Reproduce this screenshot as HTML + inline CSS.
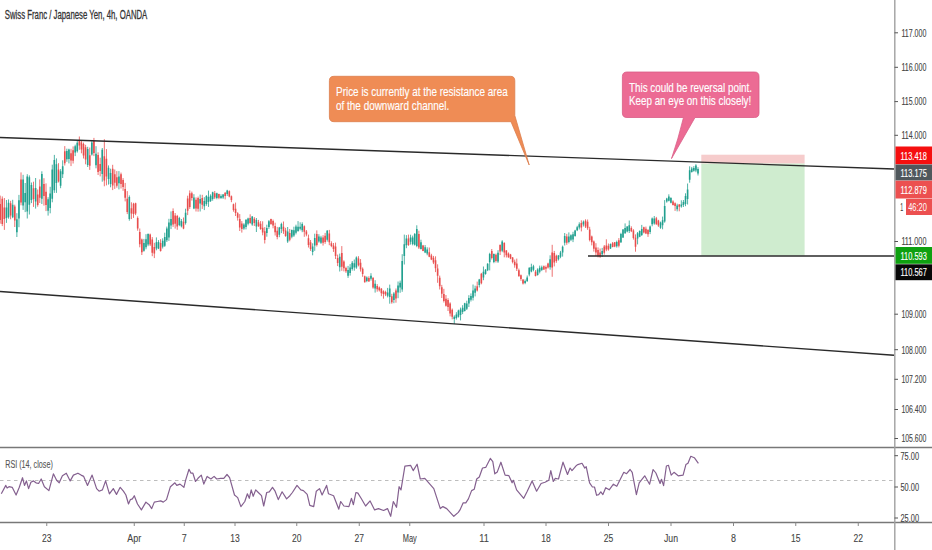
<!DOCTYPE html><html><head><meta charset="utf-8"><style>html,body{margin:0;padding:0;background:#fff;width:932px;height:550px;overflow:hidden}svg{display:block}</style></head><body><svg width="932" height="550" viewBox="0 0 932 550">
<rect width="932" height="550" fill="#fff"/>
<path d="M0 447.5H932" stroke="#787878" stroke-width="1.3"/>
<path d="M0 522.5H932" stroke="#787878" stroke-width="1.3"/>
<path d="M894.8 0V550" stroke="#a0a0a0" stroke-width="1.4"/>
<path d="M0 480.5H894" stroke="#bdbdbd" stroke-width="1" stroke-dasharray="3.5 3.5"/>
<rect x="701.3" y="154.7" width="103.3" height="8.9" fill="#f6cccc"/>
<rect x="701.3" y="163.6" width="103.3" height="92" fill="#cfeccf"/>
<path d="M6.44 200.0V222.9M8.53 199.4V218.7M12.69 199.8V218.2M16.86 213.2V237.0M18.94 194.9V227.2M23.11 174.8V209.9M25.19 183.0V212.1M27.27 174.2V218.5M29.36 175.4V214.5M31.44 182.5V203.1M35.61 178.0V208.6M41.85 171.3V204.0M48.10 197.2V215.6M50.19 186.8V213.3M52.27 164.7V202.3M54.35 154.9V192.9M56.44 158.4V192.9M60.60 169.1V188.2M62.68 160.3V178.0M66.85 148.7V161.8M68.93 148.7V163.4M75.18 144.7V156.1M77.27 140.9V152.6M87.68 146.8V167.0M91.85 140.6V155.6M96.01 146.2V168.3M102.26 148.0V181.7M108.51 165.4V184.6M110.59 168.7V187.3M118.93 171.1V189.4M129.34 195.4V220.7M143.92 238.9V251.7M146.00 234.2V249.3M148.09 233.4V246.2M156.42 237.4V250.3M158.50 240.1V249.1M162.67 238.3V248.5M164.75 232.7V246.9M166.83 226.6V242.0M168.92 218.8V240.9M171.00 211.4V229.1M179.33 216.8V226.2M181.42 219.0V227.4M185.58 208.7V224.6M193.91 194.2V209.2M200.16 194.6V211.5M204.33 197.2V210.1M206.41 195.1V205.8M208.49 190.6V206.9M210.58 194.3V202.0M212.66 191.7V200.7M216.83 192.7V199.3M220.99 194.3V198.9M223.08 194.0V198.9M227.24 189.8V195.9M243.91 223.2V229.8M245.99 219.3V229.4M248.07 217.7V225.4M252.24 216.1V225.8M256.40 218.0V232.0M266.82 224.7V236.7M268.90 220.1V228.9M279.32 226.9V237.2M281.40 222.7V233.1M287.65 227.0V242.9M291.81 229.5V238.3M293.90 226.7V236.9M295.98 224.7V234.4M298.06 221.1V231.8M300.15 222.3V230.4M302.23 222.3V232.2M312.64 243.3V255.3M314.73 233.7V250.8M318.89 234.2V242.7M320.98 235.8V243.9M327.23 230.0V241.6M339.72 253.6V271.5M348.06 265.9V277.9M350.14 264.1V275.6M352.22 261.0V270.6M354.30 259.5V270.7M356.39 256.4V268.8M366.80 276.4V282.2M370.97 273.2V280.6M375.13 280.2V292.6M387.63 287.9V297.4M389.72 284.6V303.7M393.88 292.1V303.2M398.05 281.5V298.2M400.13 280.6V292.8M402.21 254.2V291.8M404.30 234.6V264.5M406.38 235.1V248.2M410.55 234.7V244.6M412.63 235.6V245.3M414.71 233.0V245.6M416.79 225.3V247.2M420.96 239.7V249.5M425.13 245.1V253.1M427.21 247.3V255.3M454.29 315.3V323.9M456.37 312.2V319.6M458.45 309.7V317.6M460.54 307.6V320.4M462.62 305.2V314.1M464.70 302.8V311.5M466.79 300.7V310.0M468.87 295.2V307.0M470.95 293.4V301.5M473.04 284.5V300.5M475.12 285.7V296.4M479.28 278.9V287.5M483.45 266.5V280.2M485.53 269.1V274.7M487.62 263.2V271.1M489.70 252.8V270.4M493.87 253.5V263.2M498.03 250.2V262.9M502.20 240.2V252.2M525.11 279.5V284.2M527.19 275.5V281.7M529.28 267.3V276.3M531.36 263.7V272.3M533.44 264.8V271.3M537.61 268.3V275.6M539.69 265.6V273.4M541.77 265.6V271.1M550.11 255.3V269.7M558.44 255.1V260.5M560.52 250.9V258.2M562.61 245.6V256.6M564.69 233.0V245.5M568.85 232.4V243.4M570.94 234.3V241.1M573.02 231.8V242.1M575.10 229.8V236.7M577.19 225.8V231.1M579.27 222.3V229.5M583.43 220.5V226.5M602.18 247.9V257.0M610.51 243.5V249.0M616.76 240.6V247.6M620.93 232.8V243.0M623.01 229.1V238.0M625.10 223.4V233.8M627.18 226.2V232.4M629.26 220.5V233.0M637.59 232.0V244.4M639.68 230.4V237.2M641.76 224.9V236.0M650.09 225.5V234.1M652.17 217.5V226.3M654.26 216.0V224.7M660.51 221.6V228.8M662.59 216.6V229.3M664.67 200.1V222.7M666.75 197.8V202.7M668.84 194.3V201.4M670.92 197.2V203.4M677.17 203.7V211.4M681.34 200.3V207.7M683.42 200.0V207.0M685.50 193.3V206.2M687.59 183.5V204.5M689.67 166.3V182.7M691.75 166.9V172.6M693.83 166.1V171.7M695.92 164.2V172.2M698.00 167.2V175.5" stroke="#22a08f" stroke-width="0.8" fill="none"/>
<path d="M5.64 207.5h1.6V218.0h-1.6zM7.73 202.7h1.6V217.2h-1.6zM11.89 204.7h1.6V217.2h-1.6zM16.06 219.3h1.6V232.2h-1.6zM18.14 200.2h1.6V218.4h-1.6zM22.31 179.6h1.6V205.6h-1.6zM24.39 192.9h1.6V202.2h-1.6zM26.47 176.5h1.6V211.5h-1.6zM28.56 177.3h1.6V204.8h-1.6zM30.64 184.9h1.6V200.1h-1.6zM34.81 188.1h1.6V201.4h-1.6zM41.05 174.0h1.6V198.8h-1.6zM47.30 199.3h1.6V210.7h-1.6zM49.39 193.6h1.6V208.1h-1.6zM51.47 169.4h1.6V198.7h-1.6zM53.55 159.9h1.6V190.3h-1.6zM55.64 164.2h1.6V182.9h-1.6zM59.80 171.2h1.6V185.7h-1.6zM61.88 166.2h1.6V174.3h-1.6zM66.05 151.1h1.6V159.2h-1.6zM68.13 149.5h1.6V159.0h-1.6zM74.38 146.2h1.6V152.6h-1.6zM76.47 142.8h1.6V151.3h-1.6zM86.88 149.1h1.6V165.0h-1.6zM91.05 142.4h1.6V154.4h-1.6zM95.21 153.7h1.6V165.3h-1.6zM101.46 149.7h1.6V174.1h-1.6zM107.71 167.7h1.6V179.1h-1.6zM109.79 172.9h1.6V183.9h-1.6zM118.13 176.5h1.6V183.3h-1.6zM128.54 197.1h1.6V219.0h-1.6zM143.12 243.1h1.6V250.8h-1.6zM145.20 239.3h1.6V247.3h-1.6zM147.29 234.0h1.6V244.5h-1.6zM155.62 242.2h1.6V248.5h-1.6zM157.70 242.0h1.6V248.6h-1.6zM161.87 240.7h1.6V246.7h-1.6zM163.95 237.0h1.6V245.7h-1.6zM166.03 228.5h1.6V240.3h-1.6zM168.12 222.6h1.6V237.6h-1.6zM170.20 219.1h1.6V225.4h-1.6zM178.53 218.0h1.6V225.1h-1.6zM180.62 221.1h1.6V226.2h-1.6zM184.78 212.8h1.6V223.0h-1.6zM193.11 197.5h1.6V208.4h-1.6zM199.36 199.1h1.6V203.4h-1.6zM203.53 201.0h1.6V206.2h-1.6zM205.61 196.0h1.6V204.0h-1.6zM207.69 196.9h1.6V201.9h-1.6zM209.78 195.7h1.6V200.9h-1.6zM211.86 192.2h1.6V199.1h-1.6zM216.03 193.2h1.6V198.1h-1.6zM220.19 195.9h1.6V198.1h-1.6zM222.28 194.5h1.6V197.5h-1.6zM226.44 190.6h1.6V194.0h-1.6zM243.11 224.5h1.6V228.6h-1.6zM245.19 219.7h1.6V226.9h-1.6zM247.27 218.5h1.6V223.7h-1.6zM251.44 216.6h1.6V224.5h-1.6zM255.60 219.9h1.6V226.5h-1.6zM266.02 227.9h1.6V233.1h-1.6zM268.10 221.2h1.6V227.1h-1.6zM278.52 227.6h1.6V234.7h-1.6zM280.60 224.1h1.6V228.9h-1.6zM286.85 231.6h1.6V241.5h-1.6zM291.01 230.0h1.6V236.7h-1.6zM293.10 230.2h1.6V235.4h-1.6zM295.18 226.5h1.6V232.8h-1.6zM297.26 226.8h1.6V231.0h-1.6zM299.35 226.7h1.6V228.8h-1.6zM301.43 223.9h1.6V230.3h-1.6zM311.84 246.6h1.6V252.0h-1.6zM313.93 237.9h1.6V245.6h-1.6zM318.09 236.4h1.6V241.5h-1.6zM320.18 237.5h1.6V242.7h-1.6zM326.43 230.7h1.6V239.7h-1.6zM338.92 256.7h1.6V267.3h-1.6zM347.26 269.9h1.6V275.8h-1.6zM349.34 267.4h1.6V273.0h-1.6zM351.42 262.7h1.6V268.9h-1.6zM353.50 263.2h1.6V267.6h-1.6zM355.59 257.5h1.6V267.4h-1.6zM366.00 277.4h1.6V281.0h-1.6zM370.17 275.7h1.6V278.7h-1.6zM374.33 283.8h1.6V288.6h-1.6zM386.83 292.4h1.6V295.8h-1.6zM388.92 288.5h1.6V297.1h-1.6zM393.08 293.4h1.6V300.1h-1.6zM397.25 285.6h1.6V292.5h-1.6zM399.33 282.8h1.6V287.6h-1.6zM401.41 260.9h1.6V289.5h-1.6zM403.50 244.3h1.6V255.9h-1.6zM405.58 238.5h1.6V245.2h-1.6zM409.75 237.5h1.6V241.7h-1.6zM411.83 237.4h1.6V243.9h-1.6zM413.91 234.1h1.6V244.8h-1.6zM415.99 229.0h1.6V246.0h-1.6zM420.16 242.2h1.6V249.0h-1.6zM424.33 247.3h1.6V252.5h-1.6zM426.41 249.4h1.6V253.4h-1.6zM453.49 316.8h1.6V319.1h-1.6zM455.57 314.6h1.6V317.9h-1.6zM457.65 310.6h1.6V316.7h-1.6zM459.74 309.4h1.6V314.9h-1.6zM461.82 307.7h1.6V312.0h-1.6zM463.90 303.3h1.6V311.1h-1.6zM465.99 303.4h1.6V308.8h-1.6zM468.07 298.1h1.6V303.6h-1.6zM470.15 295.9h1.6V299.7h-1.6zM472.24 290.4h1.6V297.7h-1.6zM474.32 288.4h1.6V292.8h-1.6zM478.48 279.5h1.6V284.9h-1.6zM482.65 271.7h1.6V277.6h-1.6zM484.73 269.8h1.6V274.1h-1.6zM486.82 263.7h1.6V270.3h-1.6zM488.90 254.1h1.6V262.3h-1.6zM493.07 254.1h1.6V262.1h-1.6zM497.23 252.7h1.6V261.6h-1.6zM501.40 241.5h1.6V250.7h-1.6zM524.31 281.0h1.6V282.9h-1.6zM526.39 277.4h1.6V281.2h-1.6zM528.48 267.8h1.6V274.4h-1.6zM530.56 267.1h1.6V271.4h-1.6zM532.64 266.2h1.6V269.8h-1.6zM536.81 269.5h1.6V274.9h-1.6zM538.89 267.8h1.6V271.7h-1.6zM540.98 267.2h1.6V270.1h-1.6zM549.31 259.3h1.6V267.3h-1.6zM557.64 255.6h1.6V259.2h-1.6zM559.72 252.5h1.6V256.8h-1.6zM561.81 246.7h1.6V252.5h-1.6zM563.89 236.1h1.6V242.7h-1.6zM568.05 236.5h1.6V242.0h-1.6zM570.14 235.2h1.6V239.8h-1.6zM572.22 234.3h1.6V239.4h-1.6zM574.30 230.6h1.6V236.1h-1.6zM576.39 227.2h1.6V230.3h-1.6zM578.47 224.2h1.6V227.6h-1.6zM582.63 221.8h1.6V224.5h-1.6zM601.38 251.0h1.6V254.2h-1.6zM609.71 244.1h1.6V248.4h-1.6zM615.96 242.1h1.6V246.2h-1.6zM620.13 233.9h1.6V242.2h-1.6zM622.21 229.5h1.6V237.4h-1.6zM624.30 228.0h1.6V233.2h-1.6zM626.38 226.6h1.6V231.4h-1.6zM628.46 225.3h1.6V230.9h-1.6zM636.79 233.3h1.6V238.4h-1.6zM638.88 231.0h1.6V236.7h-1.6zM640.96 228.9h1.6V234.9h-1.6zM649.29 226.6h1.6V231.9h-1.6zM651.37 218.5h1.6V224.3h-1.6zM653.46 218.5h1.6V223.6h-1.6zM659.71 222.4h1.6V227.7h-1.6zM661.79 220.2h1.6V225.2h-1.6zM663.87 205.9h1.6V221.4h-1.6zM665.96 198.4h1.6V201.5h-1.6zM668.04 196.6h1.6V200.8h-1.6zM670.12 197.9h1.6V202.8h-1.6zM676.37 205.5h1.6V209.3h-1.6zM680.54 204.6h1.6V206.6h-1.6zM682.62 202.0h1.6V205.1h-1.6zM684.70 195.9h1.6V203.9h-1.6zM686.79 189.6h1.6V199.0h-1.6zM688.87 170.2h1.6V179.7h-1.6zM690.95 168.4h1.6V172.1h-1.6zM693.03 168.0h1.6V170.7h-1.6zM695.12 165.4h1.6V170.5h-1.6zM697.20 169.1h1.6V173.4h-1.6z" fill="#22a08f"/>
<path d="M0.19 195.6V223.7M2.28 196.4V226.1M4.36 198.0V229.9M10.61 200.8V219.3M14.78 204.7V227.0M21.02 172.4V205.3M33.52 181.7V206.9M37.69 189.5V206.7M39.77 179.4V203.0M43.94 178.2V205.6M46.02 183.4V211.1M58.52 163.2V182.5M64.77 146.1V165.5M71.02 148.8V166.1M73.10 146.4V163.5M79.35 136.5V149.8M81.43 140.0V153.3M83.51 142.6V158.5M85.60 144.8V164.3M89.76 147.5V169.9M93.93 137.9V156.1M98.10 152.3V175.0M100.18 157.7V176.4M104.34 139.2V186.3M106.43 149.1V185.4M112.68 164.8V190.1M114.76 169.5V188.9M116.84 171.1V187.7M121.01 172.6V188.5M123.09 178.1V190.8M125.17 182.9V201.4M127.26 191.1V214.1M131.42 202.3V219.1M133.51 202.8V217.9M135.59 202.7V215.1M137.67 216.4V230.7M139.76 228.5V247.3M141.84 238.6V255.0M150.17 233.6V246.0M152.25 237.1V256.2M154.34 242.8V258.1M160.59 239.2V251.6M173.08 208.4V226.9M175.17 213.0V228.6M177.25 214.9V229.8M183.50 217.5V229.2M187.66 195.7V215.1M189.75 190.4V208.9M191.83 191.6V200.6M196.00 197.4V211.5M198.08 196.6V211.7M202.25 194.8V208.9M214.74 191.0V199.1M218.91 193.7V199.2M225.16 192.2V199.4M229.32 190.4V197.3M231.41 195.5V202.2M233.49 203.6V211.7M235.57 202.6V216.0M237.66 212.2V220.6M239.74 214.1V231.0M241.82 221.1V232.6M250.15 214.3V223.8M254.32 217.1V226.0M258.49 219.9V226.8M260.57 221.1V229.8M262.65 221.3V235.3M264.74 227.1V243.5M270.98 218.7V224.8M273.07 219.6V228.3M275.15 222.7V235.5M277.23 226.9V239.3M283.48 221.5V233.9M285.57 227.8V236.8M289.73 229.0V241.3M304.31 225.4V236.8M306.40 230.0V236.3M308.48 234.6V247.5M310.56 240.0V250.9M316.81 230.4V246.5M323.06 235.2V245.6M325.14 232.9V243.8M329.31 229.9V245.2M331.39 241.3V247.2M333.47 243.0V251.9M335.56 242.6V259.0M337.64 254.6V266.1M341.81 246.1V270.8M343.89 260.3V271.4M345.97 266.7V272.9M358.47 256.2V266.4M360.55 259.1V271.6M362.64 267.4V276.8M364.72 275.6V282.6M368.89 276.3V281.7M373.05 277.0V288.7M377.22 284.1V291.7M379.30 286.5V291.5M381.38 288.0V296.2M383.47 290.3V298.7M385.55 290.7V296.1M391.80 293.8V303.7M395.96 288.5V302.7M408.46 234.6V245.9M418.88 230.7V249.0M423.04 244.9V251.2M429.29 247.5V257.2M431.38 253.8V260.1M433.46 255.9V264.1M435.54 256.3V272.1M437.62 264.3V282.8M439.71 275.6V289.5M441.79 284.9V298.0M443.87 288.8V302.5M445.96 295.0V306.6M448.04 298.2V311.0M450.12 302.3V316.4M452.21 308.5V319.3M477.20 281.6V291.5M481.37 272.9V284.3M491.78 249.0V259.5M495.95 253.6V262.5M500.12 244.3V255.0M504.28 242.2V257.3M506.36 250.1V257.5M508.45 252.4V257.8M510.53 253.9V259.2M512.61 257.0V263.4M514.70 259.6V267.7M516.78 258.6V271.0M518.86 268.6V276.6M520.94 274.5V280.8M523.03 279.3V284.5M535.53 270.1V276.4M543.86 265.5V270.0M545.94 265.5V272.5M548.02 262.7V268.5M552.19 244.8V276.8M554.27 250.9V266.4M556.36 254.7V262.8M566.77 233.9V244.8M581.35 220.3V231.4M585.52 219.3V228.0M587.60 219.5V229.9M589.68 226.8V241.4M591.77 235.6V245.4M593.85 240.5V251.6M595.93 243.2V256.0M598.02 247.4V257.4M600.10 248.5V257.9M604.26 245.0V254.7M606.35 239.3V251.2M608.43 243.5V250.7M612.60 242.0V247.3M614.68 242.0V247.2M618.85 238.1V247.4M631.34 226.3V232.1M633.43 229.2V239.6M635.51 234.4V251.7M643.84 226.7V233.4M645.92 226.6V234.1M648.01 229.1V236.9M656.34 216.9V224.8M658.42 219.8V226.9M673.00 200.3V205.5M675.09 202.4V210.9M679.25 204.0V211.3" stroke="#e84d4d" stroke-width="0.8" fill="none"/>
<path d="M-0.61 203.9h1.6V220.1h-1.6zM1.48 198.7h1.6V224.1h-1.6zM3.56 207.5h1.6V219.1h-1.6zM9.81 203.3h1.6V215.6h-1.6zM13.98 206.5h1.6V220.4h-1.6zM20.22 179.6h1.6V202.4h-1.6zM32.72 188.3h1.6V199.0h-1.6zM36.89 194.5h1.6V205.1h-1.6zM38.97 186.4h1.6V197.7h-1.6zM43.14 183.9h1.6V196.1h-1.6zM45.22 191.8h1.6V205.0h-1.6zM57.72 169.6h1.6V181.5h-1.6zM63.97 151.2h1.6V163.2h-1.6zM70.22 153.3h1.6V160.5h-1.6zM72.30 150.3h1.6V160.8h-1.6zM78.55 140.8h1.6V145.4h-1.6zM80.63 142.4h1.6V149.6h-1.6zM82.71 144.0h1.6V155.4h-1.6zM84.80 147.3h1.6V159.5h-1.6zM88.96 155.3h1.6V165.7h-1.6zM93.13 141.1h1.6V153.0h-1.6zM97.30 154.9h1.6V172.0h-1.6zM99.38 164.1h1.6V170.9h-1.6zM103.54 156.2h1.6V180.6h-1.6zM105.63 158.8h1.6V176.5h-1.6zM111.88 168.7h1.6V185.4h-1.6zM113.96 174.2h1.6V182.8h-1.6zM116.04 177.3h1.6V185.7h-1.6zM120.21 174.3h1.6V183.9h-1.6zM122.29 179.9h1.6V187.0h-1.6zM124.37 189.1h1.6V197.8h-1.6zM126.46 198.8h1.6V211.9h-1.6zM130.62 208.2h1.6V213.6h-1.6zM132.71 203.7h1.6V214.1h-1.6zM134.79 203.3h1.6V213.4h-1.6zM136.87 218.0h1.6V228.5h-1.6zM138.96 232.1h1.6V244.3h-1.6zM141.04 239.6h1.6V252.2h-1.6zM149.37 234.4h1.6V244.5h-1.6zM151.45 239.5h1.6V252.8h-1.6zM153.54 247.0h1.6V253.5h-1.6zM159.79 243.0h1.6V250.9h-1.6zM172.28 211.1h1.6V224.6h-1.6zM174.37 215.5h1.6V223.7h-1.6zM176.45 216.1h1.6V226.4h-1.6zM182.70 221.7h1.6V228.5h-1.6zM186.86 198.5h1.6V210.8h-1.6zM188.95 193.3h1.6V206.9h-1.6zM191.03 193.2h1.6V197.9h-1.6zM195.20 199.7h1.6V208.6h-1.6zM197.28 197.9h1.6V208.7h-1.6zM201.45 198.1h1.6V204.7h-1.6zM213.94 193.3h1.6V197.6h-1.6zM218.11 194.1h1.6V197.7h-1.6zM224.36 192.7h1.6V195.9h-1.6zM228.52 191.2h1.6V196.4h-1.6zM230.61 196.2h1.6V200.0h-1.6zM232.69 204.3h1.6V210.0h-1.6zM234.77 208.7h1.6V213.0h-1.6zM236.86 213.3h1.6V217.7h-1.6zM238.94 219.0h1.6V227.4h-1.6zM241.02 223.4h1.6V228.9h-1.6zM249.35 218.0h1.6V223.1h-1.6zM253.52 218.7h1.6V223.0h-1.6zM257.69 222.2h1.6V226.2h-1.6zM259.77 223.7h1.6V228.9h-1.6zM261.85 227.8h1.6V232.6h-1.6zM263.94 231.2h1.6V240.0h-1.6zM270.18 219.1h1.6V224.0h-1.6zM272.27 220.9h1.6V225.6h-1.6zM274.35 226.0h1.6V232.3h-1.6zM276.43 230.7h1.6V237.0h-1.6zM282.68 226.7h1.6V231.3h-1.6zM284.77 230.6h1.6V236.1h-1.6zM288.93 232.9h1.6V239.8h-1.6zM303.51 226.3h1.6V231.7h-1.6zM305.60 231.6h1.6V234.5h-1.6zM307.68 238.2h1.6V245.0h-1.6zM309.76 242.2h1.6V249.1h-1.6zM316.01 234.0h1.6V245.1h-1.6zM322.26 237.4h1.6V242.8h-1.6zM324.34 235.8h1.6V241.9h-1.6zM328.51 233.5h1.6V242.3h-1.6zM330.59 243.2h1.6V246.1h-1.6zM332.67 245.4h1.6V249.1h-1.6zM334.76 246.6h1.6V256.0h-1.6zM336.84 257.9h1.6V263.1h-1.6zM341.01 253.1h1.6V266.7h-1.6zM343.09 261.4h1.6V268.3h-1.6zM345.17 268.0h1.6V271.2h-1.6zM357.67 258.5h1.6V265.2h-1.6zM359.75 262.8h1.6V269.2h-1.6zM361.84 268.8h1.6V273.9h-1.6zM363.92 276.3h1.6V282.2h-1.6zM368.09 278.0h1.6V281.4h-1.6zM372.25 277.9h1.6V287.6h-1.6zM376.42 286.0h1.6V289.2h-1.6zM378.50 287.5h1.6V290.2h-1.6zM380.58 288.7h1.6V293.2h-1.6zM382.67 291.3h1.6V294.1h-1.6zM384.75 292.0h1.6V294.5h-1.6zM391.00 296.2h1.6V302.2h-1.6zM395.16 290.4h1.6V298.5h-1.6zM407.66 238.6h1.6V245.1h-1.6zM418.08 233.9h1.6V247.5h-1.6zM422.24 245.5h1.6V250.9h-1.6zM428.49 252.2h1.6V256.8h-1.6zM430.58 255.5h1.6V259.5h-1.6zM432.66 257.7h1.6V262.6h-1.6zM434.74 260.2h1.6V268.3h-1.6zM436.82 268.5h1.6V275.7h-1.6zM438.91 277.7h1.6V286.3h-1.6zM440.99 287.3h1.6V293.8h-1.6zM443.07 294.1h1.6V300.9h-1.6zM445.16 298.7h1.6V305.8h-1.6zM447.24 299.9h1.6V307.1h-1.6zM449.32 303.4h1.6V313.4h-1.6zM451.41 309.8h1.6V316.8h-1.6zM476.40 286.2h1.6V290.5h-1.6zM480.57 273.7h1.6V283.3h-1.6zM490.98 250.9h1.6V257.9h-1.6zM495.15 254.8h1.6V260.9h-1.6zM499.31 245.0h1.6V251.6h-1.6zM503.48 243.1h1.6V252.5h-1.6zM505.56 250.5h1.6V255.3h-1.6zM507.65 253.5h1.6V257.2h-1.6zM509.73 254.4h1.6V258.6h-1.6zM511.81 257.5h1.6V261.9h-1.6zM513.90 261.7h1.6V265.3h-1.6zM515.98 263.6h1.6V268.7h-1.6zM518.06 270.2h1.6V276.2h-1.6zM520.14 275.2h1.6V278.9h-1.6zM522.23 279.6h1.6V283.4h-1.6zM534.73 271.7h1.6V276.0h-1.6zM543.06 266.2h1.6V269.4h-1.6zM545.14 267.0h1.6V268.7h-1.6zM547.22 263.4h1.6V267.5h-1.6zM551.39 252.5h1.6V267.4h-1.6zM553.47 252.9h1.6V262.5h-1.6zM555.56 255.7h1.6V261.1h-1.6zM565.97 236.4h1.6V242.7h-1.6zM580.55 222.9h1.6V227.5h-1.6zM584.72 220.7h1.6V226.4h-1.6zM586.80 221.8h1.6V228.2h-1.6zM588.88 229.5h1.6V239.9h-1.6zM590.97 236.4h1.6V242.2h-1.6zM593.05 241.6h1.6V248.7h-1.6zM595.13 247.4h1.6V252.4h-1.6zM597.22 250.0h1.6V255.7h-1.6zM599.30 252.4h1.6V256.4h-1.6zM603.47 246.5h1.6V252.7h-1.6zM605.55 245.4h1.6V249.5h-1.6zM607.63 245.8h1.6V249.4h-1.6zM611.80 243.3h1.6V247.0h-1.6zM613.88 242.3h1.6V246.5h-1.6zM618.05 240.2h1.6V245.8h-1.6zM630.54 228.0h1.6V231.3h-1.6zM632.63 230.5h1.6V237.9h-1.6zM634.71 237.8h1.6V246.7h-1.6zM643.04 227.2h1.6V232.5h-1.6zM645.12 228.8h1.6V233.4h-1.6zM647.21 230.0h1.6V234.3h-1.6zM655.54 218.2h1.6V224.2h-1.6zM657.62 220.4h1.6V225.4h-1.6zM672.20 201.5h1.6V204.9h-1.6zM674.29 203.3h1.6V206.1h-1.6zM678.45 204.5h1.6V206.8h-1.6z" fill="#e84d4d"/>
<path d="M0 137.5L894 169" stroke="#2a2a2a" stroke-width="1.4"/>
<path d="M0 291.5L894 355.3" stroke="#2a2a2a" stroke-width="1.4"/>
<path d="M588 256H894" stroke="#2a2a2a" stroke-width="1.4"/>

<path d="M334 76.3H510.5Q514.8 76.3 514.8 80.6V115.5L529.2 165L511 121.7H334Q329.4 121.7 329.4 117V80.6Q329.4 76.3 334 76.3Z" fill="#ef8c55" stroke="#dc7d4c" stroke-width="0.8"/>
<path d="M627 72H754.5Q759 72 759 76.5V113Q759 117.5 754.5 117.5H695L671.5 158.6Q678 140 683.5 117.5H627Q622.4 117.5 622.4 113V76.5Q622.4 72 627 72Z" fill="#ec6b94" stroke="#d95c85" stroke-width="0.8"/>
<text x="336" y="95.7" font-family="Liberation Sans, sans-serif" font-size="13.5" fill="#fff" stroke="#fff" stroke-width="0.15" textLength="171.7" lengthAdjust="spacingAndGlyphs">Price is currently at the resistance area</text>
<text x="336" y="109.7" font-family="Liberation Sans, sans-serif" font-size="13.5" fill="#fff" stroke="#fff" stroke-width="0.15" textLength="113.3" lengthAdjust="spacingAndGlyphs">of the downward channel.</text>
<text x="629" y="91.7" font-family="Liberation Sans, sans-serif" font-size="13.5" fill="#fff" stroke="#fff" stroke-width="0.15" textLength="123" lengthAdjust="spacingAndGlyphs">This could be reversal point.</text>
<text x="629" y="104.7" font-family="Liberation Sans, sans-serif" font-size="13.5" fill="#fff" stroke="#fff" stroke-width="0.15" textLength="122.2" lengthAdjust="spacingAndGlyphs">Keep an eye on this closely!</text>
<text x="4.8" y="19.3" font-family="Liberation Sans, sans-serif" font-size="13" fill="#333" stroke="#333" stroke-width="0.3" textLength="142.5" lengthAdjust="spacingAndGlyphs">Swiss Franc / Japanese Yen, 4h, OANDA</text>
<text x="5.2" y="467.6" font-family="Liberation Sans, sans-serif" font-size="11" fill="#555" stroke="#555" stroke-width="0.1" textLength="47.6" lengthAdjust="spacingAndGlyphs">RSI (14, close)</text>
<polyline points="1.3,493.8 5.8,485.4 7.1,488.0 9.0,486.7 12.2,487.3 16.1,495.0 19.3,487.3 22.5,477.7 24.5,485.4 26.4,480.9 28.6,488.6 30.9,482.2 33.5,480.9 36.0,482.8 38.6,483.5 41.2,479.0 44.4,486.7 48.9,490.6 53.4,473.8 56.6,480.3 59.2,482.8 62.4,475.7 66.3,473.2 70.2,480.9 73.4,475.1 77.9,473.2 81.1,475.1 83.7,476.4 87.5,485.4 92.1,475.1 96.6,488.6 99.1,491.2 102.4,489.9 105.6,480.9 109.4,493.8 113.3,488.6 116.5,494.4 120.2,487.3 123.4,491.2 125.9,495.0 128.5,504.0 130.4,499.6 132.4,498.9 134.3,495.7 137.5,504.0 141.4,509.9 145.9,502.1 149.1,504.7 151.7,508.6 154.3,502.1 157.5,501.5 160.7,500.9 163.3,502.1 166.5,499.6 170.4,486.7 174.9,482.8 176.8,485.4 180.0,484.1 183.9,487.3 185.8,479.6 189.0,469.3 191.0,473.2 192.9,473.2 195.5,481.5 198.0,478.3 201.3,475.1 203.8,484.1 207.1,476.4 210.9,479.0 214.1,476.4 216.7,479.0 220.6,478.3 223.8,478.3 227.0,474.5 229.6,477.7 234.5,495.0 237.7,497.6 240.9,506.6 244.8,501.5 247.4,493.8 249.3,498.3 251.2,489.9 253.2,496.3 255.7,489.9 258.3,492.5 261.5,495.7 263.7,506.0 266.7,492.5 269.3,491.8 272.5,487.3 275.1,491.2 278.3,499.6 282.1,491.8 286.6,498.9 289.9,495.7 292.4,492.5 297.0,485.4 300.8,489.9 303.4,490.6 307.2,494.4 309.8,505.4 313.7,506.6 316.3,491.2 319.5,488.6 322.1,495.0 326.6,485.4 328.5,493.8 333.6,495.7 338.8,509.2 340.7,501.5 343.9,506.0 348.9,506.6 351.4,498.3 353.4,504.7 355.9,492.5 357.9,493.1 361.1,498.3 365.6,506.0 370.1,500.9 374.6,509.9 378.5,508.6 383.6,510.5 387.5,508.6 390.7,516.3 393.3,501.5 396.5,507.3 399.1,486.7 401.0,489.9 404.9,466.1 410.7,465.4 413.2,470.6 417.1,464.2 420.3,479.0 424.8,478.3 433.8,488.6 440.3,508.6 442.9,506.6 446.7,508.6 453.8,516.3 458.3,512.4 460.0,509.9 463.2,502.8 465.8,502.8 468.4,498.9 471.6,490.6 474.2,489.3 476.7,479.0 479.3,477.0 482.5,468.0 485.7,467.4 490.3,458.4 492.8,461.6 494.8,473.8 497.3,471.9 500.9,462.2 505.1,475.1 508.9,475.7 512.1,482.8 513.4,480.3 516.6,489.9 523.7,498.3 527.0,491.8 532.1,480.9 536.6,491.2 541.1,483.5 545.0,482.2 548.8,480.3 550.8,470.6 553.3,481.5 555.3,478.3 558.5,479.0 563.0,462.2 567.5,474.5 570.1,468.0 572.0,470.6 576.5,465.4 577.8,464.6 582.0,463.3 584.8,468.1 586.2,466.7 589.6,482.8 592.4,487.0 594.5,487.0 596.6,495.3 598.7,494.6 600.8,491.8 602.9,494.6 605.7,487.7 609.2,489.8 613.4,484.2 616.8,486.3 620.3,479.3 623.8,472.3 626.6,473.7 630.1,469.5 632.2,472.3 636.4,494.6 639.2,482.8 644.7,475.8 649.6,484.2 653.1,469.5 655.9,473.0 660.1,483.5 661.5,479.3 663.6,485.6 666.4,466.0 668.5,465.3 671.2,475.1 674.0,472.3 678.2,475.8 683.1,475.1 685.9,464.6 688.0,463.3 690.8,456.3 694.3,457.7 698.4,463.3" fill="none" stroke="#84608f" stroke-width="1.2" stroke-linejoin="round"/>
<path d="M894.5 32.8H898" stroke="#555" stroke-width="1"/>
<text x="901.4" y="36.6" font-family="Liberation Sans, sans-serif" font-size="10.8" fill="#444" stroke="#444" stroke-width="0.12" textLength="25" lengthAdjust="spacingAndGlyphs">117.000</text>
<path d="M894.5 67.3H898" stroke="#555" stroke-width="1"/>
<text x="901.4" y="71.1" font-family="Liberation Sans, sans-serif" font-size="10.8" fill="#444" stroke="#444" stroke-width="0.12" textLength="25" lengthAdjust="spacingAndGlyphs">116.000</text>
<path d="M894.5 101.6H898" stroke="#555" stroke-width="1"/>
<text x="901.4" y="105.4" font-family="Liberation Sans, sans-serif" font-size="10.8" fill="#444" stroke="#444" stroke-width="0.12" textLength="25" lengthAdjust="spacingAndGlyphs">115.000</text>
<path d="M894.5 135.3H898" stroke="#555" stroke-width="1"/>
<text x="901.4" y="139.1" font-family="Liberation Sans, sans-serif" font-size="10.8" fill="#444" stroke="#444" stroke-width="0.12" textLength="25" lengthAdjust="spacingAndGlyphs">114.000</text>
<path d="M894.5 241.5H898" stroke="#555" stroke-width="1"/>
<text x="901.4" y="245.3" font-family="Liberation Sans, sans-serif" font-size="10.8" fill="#444" stroke="#444" stroke-width="0.12" textLength="25" lengthAdjust="spacingAndGlyphs">111.000</text>
<path d="M894.5 314.2H898" stroke="#555" stroke-width="1"/>
<text x="901.4" y="318.0" font-family="Liberation Sans, sans-serif" font-size="10.8" fill="#444" stroke="#444" stroke-width="0.12" textLength="25" lengthAdjust="spacingAndGlyphs">109.000</text>
<path d="M894.5 349.7H898" stroke="#555" stroke-width="1"/>
<text x="901.4" y="353.5" font-family="Liberation Sans, sans-serif" font-size="10.8" fill="#444" stroke="#444" stroke-width="0.12" textLength="25" lengthAdjust="spacingAndGlyphs">108.000</text>
<path d="M894.5 379.3H898" stroke="#555" stroke-width="1"/>
<text x="901.4" y="383.1" font-family="Liberation Sans, sans-serif" font-size="10.8" fill="#444" stroke="#444" stroke-width="0.12" textLength="25" lengthAdjust="spacingAndGlyphs">107.200</text>
<path d="M894.5 409.5H898" stroke="#555" stroke-width="1"/>
<text x="901.4" y="413.3" font-family="Liberation Sans, sans-serif" font-size="10.8" fill="#444" stroke="#444" stroke-width="0.12" textLength="25" lengthAdjust="spacingAndGlyphs">106.400</text>
<path d="M894.5 438.5H898" stroke="#555" stroke-width="1"/>
<text x="901.4" y="442.3" font-family="Liberation Sans, sans-serif" font-size="10.8" fill="#444" stroke="#444" stroke-width="0.12" textLength="25" lengthAdjust="spacingAndGlyphs">105.600</text>
<path d="M894.5 455.7H898" stroke="#555" stroke-width="1"/>
<text x="900.5" y="459.5" font-family="Liberation Sans, sans-serif" font-size="10.8" fill="#444" stroke="#444" stroke-width="0.12" textLength="18.5" lengthAdjust="spacingAndGlyphs">75.00</text>
<path d="M894.5 487.0H898" stroke="#555" stroke-width="1"/>
<text x="900.5" y="490.8" font-family="Liberation Sans, sans-serif" font-size="10.8" fill="#444" stroke="#444" stroke-width="0.12" textLength="18.5" lengthAdjust="spacingAndGlyphs">50.00</text>
<path d="M894.5 518.0H898" stroke="#555" stroke-width="1"/>
<text x="900.5" y="521.8" font-family="Liberation Sans, sans-serif" font-size="10.8" fill="#444" stroke="#444" stroke-width="0.12" textLength="18.5" lengthAdjust="spacingAndGlyphs">25.00</text>
<rect x="895.5" y="146.5" width="37" height="17.8" fill="#f50f0f"/>
<text x="900.5" y="159.6" font-family="Liberation Sans, sans-serif" font-size="11.5" fill="#fff" stroke="#fff" stroke-width="0.15" textLength="26.3" lengthAdjust="spacingAndGlyphs">113.418</text>
<rect x="895.5" y="164.5" width="37" height="16.0" fill="#50575c"/>
<text x="900.5" y="176.7" font-family="Liberation Sans, sans-serif" font-size="11.5" fill="#fff" stroke="#fff" stroke-width="0.15" textLength="26.3" lengthAdjust="spacingAndGlyphs">113.175</text>
<rect x="895.5" y="180.7" width="37" height="17.8" fill="#ec5050"/>
<text x="900.5" y="193.8" font-family="Liberation Sans, sans-serif" font-size="11.5" fill="#fff" stroke="#fff" stroke-width="0.15" textLength="26.3" lengthAdjust="spacingAndGlyphs">112.879</text>
<rect x="895.5" y="247" width="37" height="16.8" fill="#0ea010"/>
<text x="900.5" y="259.6" font-family="Liberation Sans, sans-serif" font-size="11.5" fill="#fff" stroke="#fff" stroke-width="0.15" textLength="26.3" lengthAdjust="spacingAndGlyphs">110.593</text>
<rect x="895.5" y="264.3" width="37" height="15.9" fill="#080808"/>
<text x="900.5" y="276.4" font-family="Liberation Sans, sans-serif" font-size="11.5" fill="#fff" stroke="#fff" stroke-width="0.15" textLength="26.3" lengthAdjust="spacingAndGlyphs">110.567</text>
<rect x="906" y="199" width="26" height="16" fill="#ec5050"/>
<text x="900.3" y="211.2" font-family="Liberation Sans, sans-serif" font-size="11.5" fill="#333" textLength="3" lengthAdjust="spacingAndGlyphs">1</text>
<text x="908.2" y="211.2" font-family="Liberation Sans, sans-serif" font-size="11.5" fill="#fff" textLength="18.6" lengthAdjust="spacingAndGlyphs">46:20</text>
<path d="M46.75 522.5V526" stroke="#888" stroke-width="1"/>
<text x="46.75" y="541.8" font-family="Liberation Sans, sans-serif" font-size="11" fill="#444" stroke="#444" stroke-width="0.1" text-anchor="middle" textLength="9.5" lengthAdjust="spacingAndGlyphs">23</text>
<path d="M134.25 522.5V526" stroke="#888" stroke-width="1"/>
<text x="134.25" y="541.8" font-family="Liberation Sans, sans-serif" font-size="11" fill="#444" stroke="#444" stroke-width="0.1" text-anchor="middle" textLength="14" lengthAdjust="spacingAndGlyphs">Apr</text>
<path d="M184.25 522.5V526" stroke="#888" stroke-width="1"/>
<text x="184.25" y="541.8" font-family="Liberation Sans, sans-serif" font-size="11" fill="#444" stroke="#444" stroke-width="0.1" text-anchor="middle" textLength="5" lengthAdjust="spacingAndGlyphs">7</text>
<path d="M235.00 522.5V526" stroke="#888" stroke-width="1"/>
<text x="235.00" y="541.8" font-family="Liberation Sans, sans-serif" font-size="11" fill="#444" stroke="#444" stroke-width="0.1" text-anchor="middle" textLength="9.5" lengthAdjust="spacingAndGlyphs">13</text>
<path d="M296.75 522.5V526" stroke="#888" stroke-width="1"/>
<text x="296.75" y="541.8" font-family="Liberation Sans, sans-serif" font-size="11" fill="#444" stroke="#444" stroke-width="0.1" text-anchor="middle" textLength="9.5" lengthAdjust="spacingAndGlyphs">20</text>
<path d="M359.25 522.5V526" stroke="#888" stroke-width="1"/>
<text x="359.25" y="541.8" font-family="Liberation Sans, sans-serif" font-size="11" fill="#444" stroke="#444" stroke-width="0.1" text-anchor="middle" textLength="9.5" lengthAdjust="spacingAndGlyphs">27</text>
<path d="M409.75 522.5V526" stroke="#888" stroke-width="1"/>
<text x="409.75" y="541.8" font-family="Liberation Sans, sans-serif" font-size="11" fill="#444" stroke="#444" stroke-width="0.1" text-anchor="middle" textLength="14" lengthAdjust="spacingAndGlyphs">May</text>
<path d="M484.00 522.5V526" stroke="#888" stroke-width="1"/>
<text x="484.00" y="541.8" font-family="Liberation Sans, sans-serif" font-size="11" fill="#444" stroke="#444" stroke-width="0.1" text-anchor="middle" textLength="9.5" lengthAdjust="spacingAndGlyphs">11</text>
<path d="M546.00 522.5V526" stroke="#888" stroke-width="1"/>
<text x="546.00" y="541.8" font-family="Liberation Sans, sans-serif" font-size="11" fill="#444" stroke="#444" stroke-width="0.1" text-anchor="middle" textLength="9.5" lengthAdjust="spacingAndGlyphs">18</text>
<path d="M608.50 522.5V526" stroke="#888" stroke-width="1"/>
<text x="608.50" y="541.8" font-family="Liberation Sans, sans-serif" font-size="11" fill="#444" stroke="#444" stroke-width="0.1" text-anchor="middle" textLength="9.5" lengthAdjust="spacingAndGlyphs">25</text>
<path d="M671.00 522.5V526" stroke="#888" stroke-width="1"/>
<text x="671.00" y="541.8" font-family="Liberation Sans, sans-serif" font-size="11" fill="#444" stroke="#444" stroke-width="0.1" text-anchor="middle" textLength="14" lengthAdjust="spacingAndGlyphs">Jun</text>
<path d="M733.50 522.5V526" stroke="#888" stroke-width="1"/>
<text x="733.50" y="541.8" font-family="Liberation Sans, sans-serif" font-size="11" fill="#444" stroke="#444" stroke-width="0.1" text-anchor="middle" textLength="5" lengthAdjust="spacingAndGlyphs">8</text>
<path d="M795.75 522.5V526" stroke="#888" stroke-width="1"/>
<text x="795.75" y="541.8" font-family="Liberation Sans, sans-serif" font-size="11" fill="#444" stroke="#444" stroke-width="0.1" text-anchor="middle" textLength="9.5" lengthAdjust="spacingAndGlyphs">15</text>
<path d="M858.25 522.5V526" stroke="#888" stroke-width="1"/>
<text x="858.25" y="541.8" font-family="Liberation Sans, sans-serif" font-size="11" fill="#444" stroke="#444" stroke-width="0.1" text-anchor="middle" textLength="9.5" lengthAdjust="spacingAndGlyphs">22</text>
</svg></body></html>
